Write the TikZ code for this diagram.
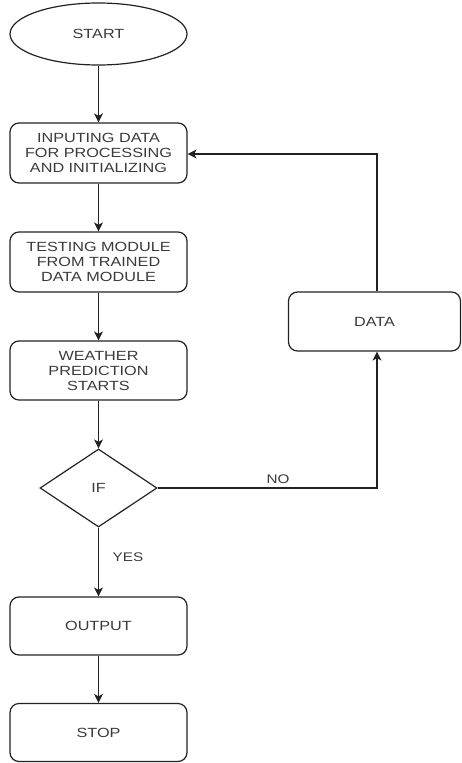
\documentclass[tikz,border=0pt]{standalone}
\usepackage{fontspec}
\setmainfont{Liberation Sans}[FakeStretch=1.22]
\usetikzlibrary{shapes.geometric,arrows.meta}
\definecolor{txt}{HTML}{3a3a3a}
\definecolor{ln}{HTML}{222222}
\begin{document}
\begin{tikzpicture}[x=1pt,y=-1pt,
  every node/.style={font=\fontsize{13.3}{15}\selectfont, text=txt, align=center, inner sep=0pt},
  box/.style={draw=ln, line width=1.2pt, rounded corners=9pt, minimum width=177pt, minimum height=60pt},
  arr/.style={draw=ln, line width=1.2pt, -{Stealth[length=9pt,width=9pt,inset=2.5pt]}},
  lbl/.style={font=\fontsize{12.5}{14}\selectfont}]
\useasboundingbox (0,0) rectangle (462,763);
\node[ellipse, draw=ln, line width=1.2pt, minimum width=177pt, minimum height=62pt] (start) at (98.5,34) {START};
\node[box] (in) at (98.5,153) {INPUTING DATA\\FOR PROCESSING\\AND INITIALIZING};
\node[box] (test) at (98.5,262) {TESTING MODULE\\FROM TRAINED\\DATA MODULE};
\node[box, minimum height=59pt] (weather) at (98.5,370.5) {WEATHER\\PREDICTION\\STARTS};
\node[diamond, draw=ln, line width=1.2pt, minimum width=117pt, minimum height=78pt] (if) at (98.5,488) {IF};
\node[box, minimum height=58pt] (output) at (98.5,626) {OUTPUT};
\node[box, minimum height=58pt] (stop) at (98.5,732.5) {STOP};
\node[box, minimum width=172pt, minimum height=59pt] (data) at (374.5,321.5) {DATA};
\coordinate (c1) at (377,154);
\coordinate (c2) at (377,488);
\draw[arr] (start) -- (in);
\draw[arr] (in) -- (test);
\draw[arr] (test) -- (weather);
\draw[arr] (weather) -- (if);
\draw[arr] (if) -- (output);
\draw[arr] (output) -- (stop);
\draw[arr] (if.east) -- (c2) -- (data.south -| c2);
\draw[arr] (data.north -| c1) -- (c1) -- (in.east |- c1);
\node[lbl] (no) at (278,479) {NO};
\node[lbl] (yes) at (128,557) {YES};
\end{tikzpicture}
\end{document}
